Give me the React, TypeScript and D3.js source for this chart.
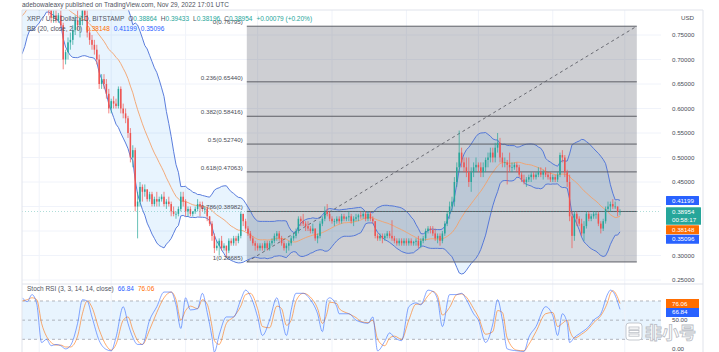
import React from 'react';
import * as d3 from 'd3';

// XRP / USD daily (Bitstamp). Each row is [high, low, close]; open = previous close.
// closes of Mar 5 - Mar 24 are only used to warm up the Bollinger bands
const warmupCloses = [0.72, 0.71, 0.70, 0.73, 0.80, 0.78, 0.77, 0.78, 0.77, 0.79, 0.78, 0.80, 0.80, 0.80, 0.82, 0.81, 0.82, 0.84, 0.83, 0.83];

const mar22 = [
  [0.84, 0.82, 0.83], [0.835, 0.82, 0.83], [0.85, 0.82, 0.845], [0.87, 0.84, 0.85], [0.87, 0.84, 0.85], [0.86, 0.83, 0.84], [0.85, 0.81, 0.82],
];
const apr22 = [
  [0.835, 0.80, 0.825], [0.85, 0.82, 0.83], [0.845, 0.82, 0.84], [0.845, 0.81, 0.83], [0.84, 0.79, 0.80],
  [0.81, 0.775, 0.785], [0.80, 0.775, 0.79], [0.80, 0.775, 0.78], [0.795, 0.775, 0.79], [0.80, 0.765, 0.77],
  [0.775, 0.68, 0.70], [0.72, 0.69, 0.715], [0.745, 0.70, 0.735], [0.755, 0.72, 0.74], [0.77, 0.73, 0.76],
  [0.79, 0.75, 0.78], [0.80, 0.76, 0.77], [0.79, 0.745, 0.785], [0.81, 0.77, 0.80], [0.82, 0.78, 0.79],
  [0.80, 0.745, 0.755], [0.765, 0.73, 0.74], [0.75, 0.72, 0.73], [0.74, 0.71, 0.72], [0.73, 0.69, 0.70],
  [0.71, 0.64, 0.65], [0.67, 0.64, 0.66], [0.67, 0.64, 0.65], [0.66, 0.62, 0.63], [0.64, 0.59, 0.60],
];
const may22 = [
  [0.62, 0.59, 0.615], [0.625, 0.60, 0.61], [0.62, 0.60, 0.605], [0.645, 0.60, 0.64], [0.645, 0.59, 0.60],
  [0.61, 0.58, 0.59], [0.60, 0.57, 0.58], [0.585, 0.54, 0.55], [0.56, 0.49, 0.50], [0.525, 0.48, 0.515],
  [0.52, 0.39, 0.40], [0.43, 0.335, 0.41], [0.45, 0.40, 0.44], [0.445, 0.41, 0.43], [0.445, 0.42, 0.435],
  [0.435, 0.41, 0.415], [0.43, 0.41, 0.425], [0.43, 0.40, 0.405], [0.42, 0.40, 0.415], [0.43, 0.40, 0.41],
  [0.42, 0.40, 0.415], [0.425, 0.41, 0.42], [0.43, 0.40, 0.405], [0.415, 0.395, 0.41], [0.42, 0.40, 0.405],
  [0.41, 0.38, 0.39], [0.40, 0.38, 0.385], [0.39, 0.375, 0.385], [0.40, 0.38, 0.395], [0.43, 0.39, 0.42],
  [0.43, 0.40, 0.41],
];
const jun22 = [
  [0.415, 0.38, 0.39], [0.40, 0.38, 0.395], [0.40, 0.38, 0.385], [0.39, 0.38, 0.39], [0.40, 0.385, 0.395],
  [0.415, 0.39, 0.405], [0.41, 0.38, 0.40], [0.41, 0.39, 0.395], [0.40, 0.385, 0.395], [0.40, 0.37, 0.38],
  [0.38, 0.36, 0.365], [0.37, 0.33, 0.34], [0.345, 0.305, 0.315], [0.33, 0.31, 0.32], [0.335, 0.30, 0.33],
  [0.34, 0.31, 0.315], [0.325, 0.31, 0.32], [0.32, 0.295, 0.31], [0.335, 0.305, 0.33], [0.335, 0.32, 0.325],
  [0.34, 0.32, 0.335], [0.34, 0.32, 0.33], [0.345, 0.325, 0.34], [0.39, 0.335, 0.385], [0.385, 0.36, 0.37],
  [0.375, 0.35, 0.355], [0.36, 0.34, 0.345], [0.35, 0.33, 0.335], [0.34, 0.32, 0.325], [0.33, 0.31, 0.32],
];
const jul22 = [
  [0.325, 0.31, 0.315], [0.325, 0.31, 0.32], [0.325, 0.31, 0.315], [0.33, 0.31, 0.325], [0.33, 0.31, 0.315],
  [0.33, 0.31, 0.325], [0.335, 0.32, 0.33], [0.345, 0.325, 0.34], [0.35, 0.33, 0.345], [0.35, 0.33, 0.335],
  [0.34, 0.32, 0.325], [0.33, 0.31, 0.315], [0.325, 0.305, 0.32], [0.33, 0.31, 0.325], [0.34, 0.32, 0.335],
  [0.345, 0.33, 0.34], [0.355, 0.335, 0.35], [0.38, 0.345, 0.375], [0.38, 0.36, 0.37], [0.385, 0.36, 0.365],
  [0.37, 0.35, 0.36], [0.37, 0.35, 0.355], [0.36, 0.345, 0.35], [0.365, 0.345, 0.355], [0.355, 0.33, 0.335],
  [0.345, 0.325, 0.34], [0.37, 0.335, 0.365], [0.38, 0.36, 0.375], [0.40, 0.37, 0.39], [0.405, 0.38, 0.385],
  [0.39, 0.37, 0.375],
];
const aug22 = [
  [0.38, 0.365, 0.37], [0.375, 0.36, 0.37], [0.38, 0.365, 0.375], [0.38, 0.365, 0.37], [0.385, 0.365, 0.38],
  [0.385, 0.37, 0.375], [0.38, 0.37, 0.378], [0.39, 0.37, 0.38], [0.385, 0.365, 0.37], [0.38, 0.36, 0.375],
  [0.385, 0.37, 0.378], [0.385, 0.37, 0.382], [0.39, 0.375, 0.38], [0.39, 0.375, 0.385], [0.39, 0.37, 0.375],
  [0.39, 0.37, 0.385], [0.39, 0.37, 0.375], [0.38, 0.365, 0.37], [0.37, 0.335, 0.34], [0.345, 0.33, 0.335],
  [0.345, 0.33, 0.34], [0.345, 0.325, 0.335], [0.345, 0.33, 0.34], [0.35, 0.335, 0.345], [0.35, 0.335, 0.34],
  [0.372, 0.33, 0.335], [0.34, 0.325, 0.33], [0.335, 0.32, 0.325], [0.335, 0.32, 0.33], [0.335, 0.32, 0.325],
  [0.335, 0.32, 0.33],
];
const sep22 = [
  [0.335, 0.32, 0.325], [0.335, 0.32, 0.33], [0.335, 0.32, 0.325], [0.33, 0.32, 0.328], [0.335, 0.32, 0.33],
  [0.34, 0.315, 0.32], [0.335, 0.315, 0.33], [0.34, 0.325, 0.335], [0.355, 0.33, 0.35], [0.36, 0.345, 0.355],
  [0.36, 0.345, 0.352], [0.36, 0.34, 0.345], [0.355, 0.33, 0.335], [0.345, 0.325, 0.34], [0.345, 0.32, 0.33],
  [0.35, 0.325, 0.345], [0.37, 0.34, 0.365], [0.39, 0.36, 0.385], [0.41, 0.375, 0.40], [0.42, 0.39, 0.41],
  [0.46, 0.40, 0.45], [0.49, 0.44, 0.48], [0.555, 0.47, 0.51], [0.52, 0.48, 0.49], [0.50, 0.47, 0.48],
  [0.50, 0.46, 0.47], [0.50, 0.44, 0.45], [0.48, 0.43, 0.47], [0.49, 0.46, 0.48], [0.50, 0.47, 0.485],
];
const oct22 = [
  [0.49, 0.47, 0.48], [0.49, 0.46, 0.47], [0.49, 0.46, 0.48], [0.50, 0.47, 0.495], [0.51, 0.48, 0.50],
  [0.52, 0.49, 0.51], [0.52, 0.49, 0.50], [0.53, 0.49, 0.52], [0.55, 0.51, 0.53], [0.54, 0.49, 0.50],
  [0.51, 0.48, 0.49], [0.50, 0.48, 0.49], [0.495, 0.445, 0.485], [0.51, 0.47, 0.48], [0.49, 0.47, 0.48],
  [0.49, 0.475, 0.485], [0.49, 0.47, 0.48], [0.485, 0.46, 0.465], [0.47, 0.45, 0.455], [0.465, 0.445, 0.45],
  [0.46, 0.44, 0.455], [0.465, 0.45, 0.46], [0.47, 0.45, 0.465], [0.47, 0.455, 0.46], [0.47, 0.455, 0.465],
  [0.48, 0.46, 0.47], [0.48, 0.46, 0.465], [0.475, 0.455, 0.47], [0.48, 0.46, 0.465], [0.47, 0.455, 0.46],
  [0.47, 0.45, 0.455],
];
const nov22 = [
  [0.465, 0.45, 0.46], [0.465, 0.45, 0.455], [0.47, 0.45, 0.465], [0.51, 0.46, 0.505], [0.515, 0.49, 0.50],
  [0.505, 0.46, 0.47], [0.475, 0.44, 0.45], [0.465, 0.37, 0.38], [0.39, 0.315, 0.34], [0.39, 0.33, 0.385],
  [0.39, 0.36, 0.375], [0.38, 0.36, 0.365], [0.375, 0.34, 0.345], [0.37, 0.33, 0.36], [0.39, 0.355, 0.385],
  [0.39, 0.37, 0.375], [0.385, 0.37, 0.38], [0.39, 0.375, 0.385], [0.39, 0.375, 0.385], [0.39, 0.36, 0.365],
  [0.37, 0.345, 0.355], [0.375, 0.35, 0.37], [0.40, 0.365, 0.395], [0.41, 0.39, 0.40], [0.41, 0.39, 0.405],
  [0.415, 0.395, 0.40], [0.41, 0.395, 0.40], [0.40, 0.38, 0.38864], [0.39433, 0.38196, 0.38954],
];

// Fibonacci retracement drawing
const fibHigh = 0.76795;
const fibLow = 0.28685;
const fibRatios = [0, 0.236, 0.382, 0.5, 0.618, 0.786, 1];
const fibLabels = ['0(0.76795)', '0.236(0.65440)', '0.382(0.58416)', '0.5(0.52740)', '0.618(0.47063)', '0.786(0.38982)', '1(0.28685)'];
const fibStart = new Date(2022, 5, 26, 12);
const fibEnd = new Date(2022, 11, 6);

const priceTicks = [0.25, 0.3, 0.35, 0.4, 0.45, 0.5, 0.55, 0.6, 0.65, 0.7, 0.75];

// Stoch RSI: [day index from Mar 25, %K, %D]
const stochRsi = [
  [0, 85, 80], [2, 79, 82], [4, 90, 85], [6, 75, 82], [8, 15, 45], [10, 20, 25], [12, 10, 15], [14, 12, 11],
  [16, 10, 11], [18, 5, 8], [20, 10, 8], [23, 45, 25], [25, 82, 60], [27, 80, 80], [29, 55, 70], [32, 18, 35],
  [35, 4, 10], [37, 2, 3], [39, 23, 12], [42, 71, 50], [44, 45, 55], [46, 23, 35], [48, 12, 18], [50, 12, 12],
  [53, 50, 35], [56, 71, 62], [59, 94, 85], [62, 94, 94], [64, 74, 82], [66, 37, 50], [68, 85, 65], [70, 66, 72],
  [73, 68, 68], [75, 92, 82], [77, 62, 75], [79, 23, 40], [80, 0, 18], [82, 27, 12], [85, 55, 45], [88, 55, 55],
  [91, 82, 72], [93, 97, 90], [95, 88, 92], [98, 55, 68], [100, 26, 40], [103, 50, 38], [106, 85, 72], [108, 55, 68],
  [110, 26, 42], [112, 66, 50], [114, 92, 80], [117, 92, 92], [120, 82, 86], [123, 60, 68], [125, 32, 45], [127, 82, 62],
  [128, 85, 78], [131, 71, 76], [132, 60, 68], [136, 60, 60], [139, 50, 54], [141, 47, 48], [144, 45, 46], [146, 55, 50],
  [148, 2, 20], [151, 17, 10], [153, 30, 22], [155, 23, 25], [158, 18, 20], [161, 71, 50], [164, 77, 75], [166, 74, 75],
  [169, 97, 88], [171, 95, 95], [173, 82, 88], [175, 40, 58], [178, 90, 70], [181, 90, 90], [183, 92, 91], [185, 82, 86],
  [188, 60, 68], [190, 50, 55], [193, 15, 28], [196, 44, 32], [198, 82, 65], [200, 50, 62], [202, 5, 22], [206, 2, 3],
  [209, 1, 2], [211, 23, 12], [214, 40, 32], [218, 71, 60], [221, 57, 62], [223, 26, 40], [225, 60, 45], [227, 45, 50],
  [228, 15, 35], [230, 23, 22], [233, 31, 28], [236, 40, 37], [238, 50, 46], [241, 60, 57], [244, 92, 80], [245, 97, 92],
  [246, 95, 96], [249, 66.84, 76.06],
];
const stochLevels = [20, 50, 80];

const UP = '#26a69a';
const DOWN = '#ef5350';
const BLUE = '#2962ff';
const ORANGE = '#ff6d00';
const FONT = '"Liberation Sans", Arial, sans-serif';

export default function App() {
  const W = 719, H = 352;
  const left = 22, right = 661, top = 10, mainBottom = 284, bottom = 352;
  const axisX = 672;

  const start = new Date(2022, 2, 25);
  const hlc = [mar22, apr22, may22, jun22, jul22, aug22, sep22, oct22, nov22].flat();
  const bars = hlc.map((d, i) => ({
    date: d3.timeDay.offset(start, i),
    open: i === 0 ? warmupCloses[warmupCloses.length - 1] : hlc[i - 1][2],
    high: d[0], low: d[1], close: d[2],
  }));
  const closes = [...warmupCloses, ...bars.map(b => b.close)];

  const x = d3.scaleTime().domain([start, d3.timeDay.offset(start, 266)]).range([22.4, 22.4 + 266 * 2.4]);
  const step = x(d3.timeDay.offset(start, 1)) - x(start);
  const y = d3.scaleLinear().domain([0.25, 0.75]).range([280, 35]);
  const ys = d3.scaleLinear().domain([0, 100]).range([352.1, 288.2]);

  // Bollinger bands 20, 2 (population stdev like TradingView)
  const bb = closes.map((_, j) => {
    if (j < 19) return null;
    const w = closes.slice(j - 19, j + 1);
    const m = d3.mean(w) as number;
    const s = Math.sqrt(d3.mean(w, v => (v - m) ** 2) as number);
    return { date: d3.timeDay.offset(start, j - warmupCloses.length), m, u: m + 2 * s, l: m - 2 * s };
  }).filter(Boolean) as { date: Date; m: number; u: number; l: number }[];

  const bbArea = d3.area<typeof bb[0]>().x(d => x(d.date)).y0(d => y(d.l)).y1(d => y(d.u));
  const bbLine = (k: 'm' | 'u' | 'l') => d3.line<typeof bb[0]>().x(d => x(d.date)).y(d => y(d[k]))(bb) as string;

  const months = d3.timeMonth.range(d3.timeMonth.ceil(start), x.domain()[1]);

  const fibX0 = x(fibStart), fibX1 = x(fibEnd);
  const fibPrice = (r: number) => fibHigh - r * (fibHigh - fibLow);

  const stochLine = (k: 1 | 2) => d3.line<number[]>()
    .x(d => x(d3.timeDay.offset(start, d[0])))
    .y(d => ys(d[k]))
    .curve(d3.curveMonotoneX)(stochRsi) as string;

  // right axis price tags, stacked so they do not overlap
  const tags = [
    { v: 0.41199, color: BLUE, rows: ['0.41199'] },
    { v: 0.38954, color: UP, rows: ['0.38954', '00:58:17'] },
    { v: 0.38148, color: ORANGE, rows: ['0.38148'] },
    { v: 0.35096, color: BLUE, rows: ['0.35096'] },
  ];
  let prevBottom = -Infinity;
  const placed = tags.map(t => {
    const h = t.rows.length === 1 ? 9 : 17.5;
    const t0 = Math.max(y(t.v) - 4.5, prevBottom + 0.5);
    prevBottom = t0 + h;
    return { ...t, top: t0, h };
  });
  const hiddenTick = (v: number) => placed.some(p => y(v) > p.top - 4 && y(v) < p.top + p.h + 4);

  const green = { fill: UP };
  return (
    <svg width={W} height={H} style={{ position: 'absolute', left: 0, top: 0, background: '#fff' }}
      fontFamily={FONT}>
      <defs>
        <clipPath id="main"><rect x={left} y={top} width={right - left} height={mainBottom - top} /></clipPath>
        <clipPath id="stoch"><rect x={left} y={mainBottom} width={right - left} height={bottom - mainBottom} /></clipPath>
        <clipPath id="axis"><rect x={right} y={top} width={W - right} height={mainBottom - 2 - top} /></clipPath>
      </defs>
      <rect x={0} y={0} width={W} height={H} fill="#fff" />

      <g clipPath="url(#main)">
        {/* grid */}
        {priceTicks.map(v => (
          <line key={v} x1={left} x2={right} y1={y(v)} y2={y(v)} stroke="#f0f3fa" />
        ))}
        {months.map(m => (
          <line key={+m} x1={x(m)} x2={x(m)} y1={top} y2={mainBottom} stroke="#f0f3fa" />
        ))}

        {/* fib retracement background */}
        <rect x={fibX0} y={y(fibHigh)} width={fibX1 - fibX0} height={y(fibLow) - y(fibHigh)} fill="#787b86" fillOpacity={0.36} />

        {/* bollinger */}
        <path d={bbArea(bb) as string} fill="#2196f3" fillOpacity={0.1} />
        <path d={bbLine('u')} fill="none" stroke="#4a6fd8" strokeWidth={0.9} />
        <path d={bbLine('l')} fill="none" stroke="#4a6fd8" strokeWidth={0.9} />
        <path d={bbLine('m')} fill="none" stroke="#f4a16b" strokeWidth={0.9} />

        {/* fib levels */}
        {fibRatios.map(r => (
          <line key={r} x1={fibX0} x2={fibX1} y1={y(fibPrice(r))} y2={y(fibPrice(r))} stroke="#5d5f66" strokeWidth={1} />
        ))}
        <line x1={fibX0} y1={y(fibLow)} x2={fibX1} y2={y(fibHigh)} stroke="#5d5f66" strokeWidth={0.9} strokeDasharray="3,3" />

        {/* candles */}
        {bars.map(b => {
          const c = b.close >= b.open ? UP : DOWN;
          const cx = x(b.date);
          const bw = step * 0.62;
          const y0 = y(Math.max(b.open, b.close)), y1 = y(Math.min(b.open, b.close));
          return (
            <g key={+b.date}>
              <line x1={cx} x2={cx} y1={y(b.high)} y2={y(b.low)} stroke={c} strokeWidth={0.7} />
              <rect x={cx - bw / 2} y={y0} width={bw} height={Math.max(0.7, y1 - y0)} fill={c} />
            </g>
          );
        })}

        <line x1={left} x2={right} y1={y(0.38954)} y2={y(0.38954)} stroke={UP} strokeWidth={0.6} strokeDasharray="1,2" opacity={0.7} />

        {/* fib labels */}
        {fibRatios.map((r, k) => (
          <text key={r} x={fibX0 - 4} y={y(fibPrice(r)) - 2} textAnchor="end" fontSize={6.2} fill="#4a4d57">
            {fibLabels[k]}
          </text>
        ))}
      </g>

      {/* stoch rsi pane */}
      <g clipPath="url(#stoch)">
        <rect x={left} y={ys(80)} width={right - left} height={ys(20) - ys(80)} fill="#2196f3" fillOpacity={0.1} />
        {months.map(m => (
          <line key={+m} x1={x(m)} x2={x(m)} y1={mainBottom} y2={bottom} stroke="#f0f3fa" />
        ))}
        {stochLevels.map(v => (
          <line key={v} x1={left} x2={right} y1={ys(v)} y2={ys(v)} stroke="#9598a1" strokeWidth={0.7} strokeDasharray="3,3" />
        ))}
        <path d={stochLine(2)} fill="none" stroke={ORANGE} strokeWidth={0.75} strokeOpacity={0.75} />
        <path d={stochLine(1)} fill="none" stroke={BLUE} strokeWidth={0.75} strokeOpacity={0.75} />
      </g>

      {/* frames */}
      <line x1={left} x2={left} y1={top} y2={bottom} stroke="#e0e3eb" />
      <line x1={left} x2={703} y1={top} y2={top} stroke="#e0e3eb" />
      <line x1={left} x2={703} y1={mainBottom} y2={mainBottom} stroke="#e0e3eb" />
      <line x1={703} x2={703} y1={top} y2={bottom} stroke="#e0e3eb" />

      {/* price axis */}
      <g clipPath="url(#axis)">
        <text x={axisX + 9} y={20} fontSize={6.2} fill="#4a4d57">USD</text>
        {priceTicks.filter(v => !hiddenTick(v)).map(v => (
          <text key={v} x={axisX} y={y(v) + 2.2} fontSize={6.2} fill="#4a4d57">{v.toFixed(5)}</text>
        ))}
      </g>
      {placed.map(p => (
        <g key={p.v}>
          <rect x={666} y={p.top} width={p.rows.length > 1 ? 35 : 33} height={p.h} fill={p.color} rx={0.5} />
          {p.rows.map((r, k) => (
            <text key={r} x={axisX} y={p.top + 6.6 + k * 8.5} fontSize={6.2} fill="#fff">{r}</text>
          ))}
        </g>
      ))}

      {/* stoch axis */}
      <text x={axisX} y={ys(50) + 2.2} fontSize={6.2} fill="#4a4d57">50.00</text>
      <text x={axisX} y={ys(0) - 1} fontSize={6.2} fill="#4a4d57">0.00</text>
      <rect x={666} y={ys(76.06) - 4.5} width={33} height={9} fill={ORANGE} />
      <text x={axisX} y={ys(76.06) + 2.2} fontSize={6.2} fill="#fff">76.06</text>
      <rect x={666} y={ys(76.06) + 4.5} width={33} height={9} fill={BLUE} />
      <text x={axisX} y={ys(76.06) + 10.9} fontSize={6.2} fill="#fff">66.84</text>

      {/* watermark */}
      <g stroke="#b8bcc4" strokeWidth={0.8} fill="#fff">
        <rect x={626} y={323} width={16} height={17} rx={3} />
        <rect x={629} y={327} width={10} height={2.2} />
        <rect x={629} y={330.5} width={10} height={2.2} />
        <rect x={629} y={334} width={10} height={2.2} />
        <text x={645} y={339} fontSize={17} fontWeight="bold" fontFamily='"Noto Sans CJK SC", sans-serif'>非小号</text>
      </g>

      {/* legends */}
      <text x={22} y={7} fontSize={6.5} fill="#50535e">adebowaleaxy published on TradingView.com, Nov 29, 2022 17:01 UTC</text>
      <text x={27} y={21} fontSize={6.5} fill="#50535e">
        XRP / U.S. Dollar, 1D, BITSTAMP
        <tspan dx={4}>O</tspan><tspan {...green}>0.38864</tspan>
        <tspan dx={4}>H</tspan><tspan {...green}>0.39433</tspan>
        <tspan dx={4}>L</tspan><tspan {...green}>0.38196</tspan>
        <tspan dx={4}>C</tspan><tspan {...green}>0.38954</tspan>
        <tspan dx={4} {...green}>+0.00079 (+0.20%)</tspan>
      </text>
      <text x={27} y={31} fontSize={6.5} fill="#50535e">
        BB (20, close, 2, 0)
        <tspan dx={4} fill={ORANGE}>0.38148</tspan>
        <tspan dx={4} fill={BLUE}>0.41199</tspan>
        <tspan dx={4} fill={BLUE}>0.35096</tspan>
      </text>
      <text x={27} y={291} fontSize={6.5} fill="#50535e">
        Stoch RSI (3, 3, 14, 14, close)
        <tspan dx={4} fill={BLUE}>66.84</tspan>
        <tspan dx={4} fill={ORANGE}>76.06</tspan>
      </text>
    </svg>
  );
}
